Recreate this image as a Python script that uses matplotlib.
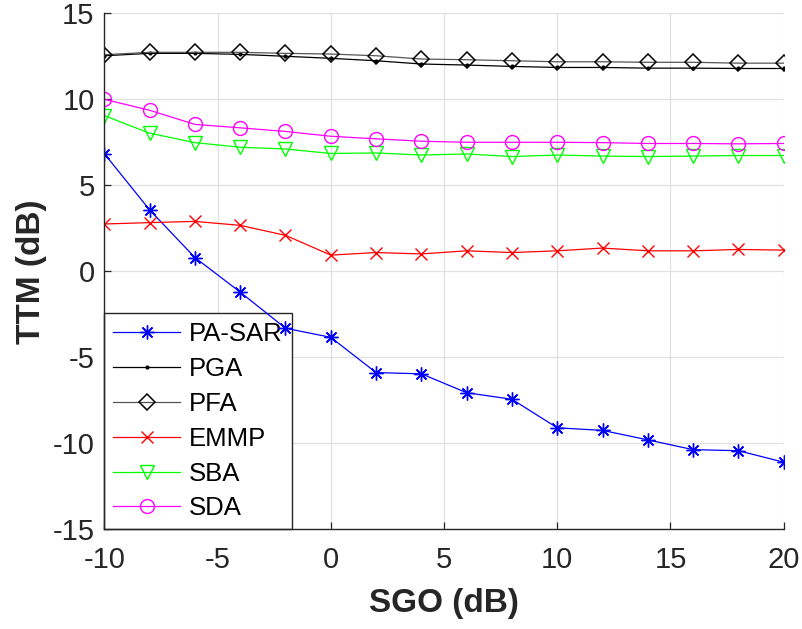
import numpy as np
import matplotlib.pyplot as plt

plt.rcParams['font.family'] = ['Liberation Sans', 'DejaVu Sans']
plt.rcParams['axes.unicode_minus'] = False

sgo = [-10, -8, -6, -4, -2, 0, 2, 4, 6, 8, 10, 12, 14, 16, 18, 20]

pa_sar = [6.84, 3.57, 0.80, -1.21, -3.31, -3.84, -5.89, -5.96, -7.06, -7.44,
          -9.10, -9.25, -9.80, -10.37, -10.43, -11.10]
pga = [12.53, 12.67, 12.67, 12.61, 12.50, 12.38, 12.24, 12.05, 11.99, 11.91,
       11.85, 11.85, 11.81, 11.81, 11.79, 11.79]
pfa = [12.59, 12.73, 12.73, 12.73, 12.67, 12.63, 12.53, 12.34, 12.30, 12.24,
       12.18, 12.18, 12.15, 12.15, 12.10, 12.10]
emmp = [2.75, 2.83, 2.90, 2.67, 2.09, 0.94, 1.09, 1.01, 1.19, 1.09,
        1.19, 1.35, 1.19, 1.19, 1.27, 1.23]
sba = [9.05, 8.03, 7.48, 7.21, 7.11, 6.85, 6.88, 6.76, 6.82, 6.67,
       6.76, 6.70, 6.67, 6.70, 6.73, 6.73]
sda = [10.00, 9.36, 8.54, 8.34, 8.13, 7.85, 7.70, 7.56, 7.50, 7.50,
       7.50, 7.48, 7.43, 7.43, 7.41, 7.43]

fig = plt.figure(figsize=(8.03, 6.29), dpi=100)
ax = fig.add_axes([0.1299, 0.1585, 0.8461, 0.8204])

lw = 0.9
ax.plot(sgo, pa_sar, color='#0000ff', lw=lw, marker=(8, 2, 0), ms=10,
        mew=1.0, label='PA-SAR')
ax.plot(sgo, pga, color='black', lw=lw, marker='.', ms=4, label='PGA')
ax.plot(sgo, pfa, color='#555555', lw=lw, marker='D', ms=8.5, mfc='none',
        mec='black', mew=1.1, label='PFA')
ax.plot(sgo, emmp, color='#ff0000', lw=lw, marker='x', ms=9, mew=1.0,
        label='EMMP')
ax.plot(sgo, sba, color='#00ff00', lw=lw, marker='v', ms=10, mfc='none',
        mew=1.0, label='SBA')
ax.plot(sgo, sda, color='#ff00ff', lw=lw, marker='o', ms=10, mfc='none',
        mew=1.0, label='SDA')

ax.set_xlim(-10, 20)
ax.set_ylim(-15, 15)
ax.set_xticks(np.arange(-10, 21, 5))
ax.set_yticks(np.arange(-15, 16, 5))
ax.grid(True, color='#e0e0e0', lw=0.9)
ax.set_axisbelow(True)
for s in ['top', 'right']:
    ax.spines[s].set_visible(False)
for s in ['left', 'bottom']:
    ax.spines[s].set_color('#262626')
    ax.spines[s].set_linewidth(1.0)
ax.tick_params(direction='in', length=5, width=0.9, colors='#262626',
               labelsize=21)
ax.tick_params(axis='x', pad=12)
ax.tick_params(axis='y', pad=7)

ax.set_xlabel('SGO (dB)', fontsize=24, fontweight='bold', color='#262626',
              labelpad=10)
ax.set_ylabel('TTM (dB)', fontsize=24, fontweight='bold', color='#262626',
              labelpad=4)

leg = ax.legend(loc='lower left', bbox_to_anchor=(0, 0), fontsize=18.5,
                frameon=True, fancybox=False, borderaxespad=0,
                handlelength=2.6, handletextpad=0.35, labelspacing=0.42,
                borderpad=0.35)
leg.get_frame().set_edgecolor('#262626')
leg.get_frame().set_linewidth(1.0)
leg.get_frame().set_alpha(1.0)
leg.set_zorder(1.5)

fig.savefig('out.png', dpi=100)
